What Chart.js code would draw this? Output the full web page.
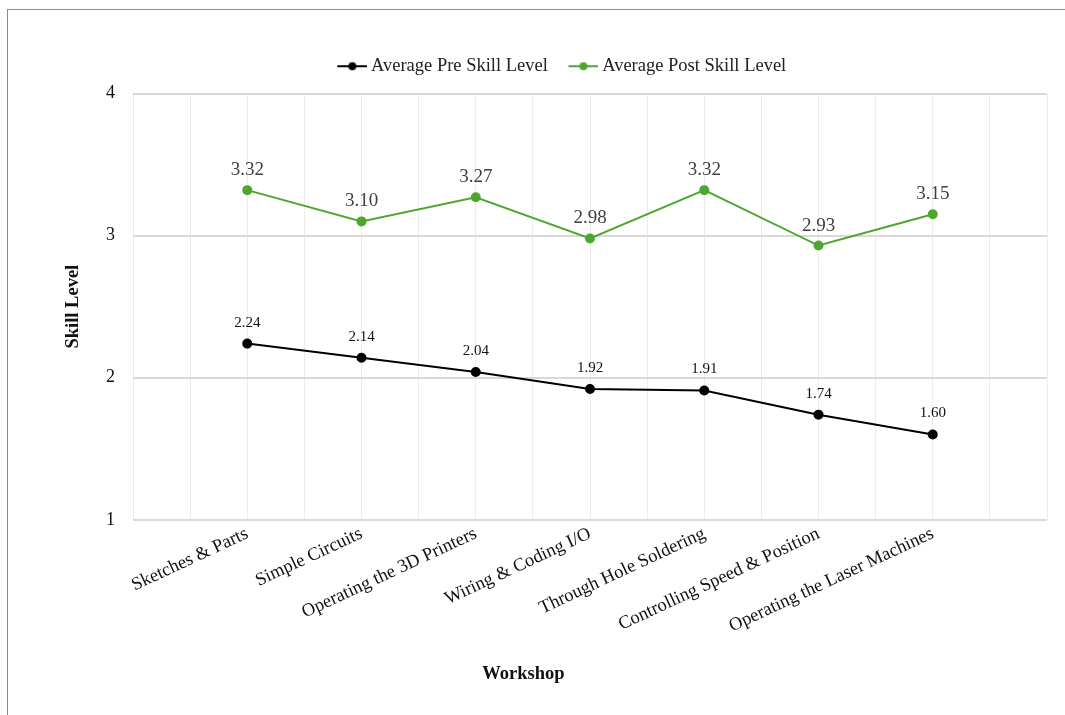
<!DOCTYPE html>
<html>
<head>
<meta charset="utf-8">
<script src="https://cdn.jsdelivr.net/npm/chart.js@4/dist/chart.umd.min.js"></script>
<style>
  html, body { margin: 0; padding: 0; background: #fff; }
  #wrap { position: relative; width: 1065px; height: 715px; overflow: hidden; }
  #frame { position: absolute; left: 7px; top: 9px; width: 1070px; height: 720px; border: 1px solid #8c8c8c; border-bottom: none; box-sizing: border-box; pointer-events: none; }
  canvas { position: absolute; left: 0; top: 0; }
</style>
</head>
<body>
<div id="wrap">
  <canvas id="chart" width="1065" height="715"></canvas>
  <div id="frame"></div>
</div>
<script>
// Data
const workshops = ['Sketches & Parts', 'Simple Circuits', 'Operating the 3D Printers', 'Wiring & Coding I/O',
  'Through Hole Soldering', 'Controlling Speed & Position', 'Operating the Laser Machines'];
const preSkill  = [2.24, 2.14, 2.04, 1.92, 1.91, 1.74, 1.60];
const postSkill = [3.32, 3.10, 3.27, 2.98, 3.32, 2.93, 3.15];
const yTicks = [1, 2, 3, 4];

const serif = '"Liberation Serif", "Times New Roman", serif';
const green = '#4ea72e';

// legend marker: short line with a dot (left part of the image is empty)
function legendMark(color) {
  const c = document.createElement('canvas');
  c.width = 36; c.height = 12;
  const g = c.getContext('2d');
  g.strokeStyle = color; g.lineWidth = 2;
  g.beginPath(); g.moveTo(6, 6); g.lineTo(36, 6); g.stroke();
  g.fillStyle = color;
  g.beginPath(); g.arc(21, 6, 4, 0, Math.PI * 2); g.fill();
  return c;
}

// value labels above the points
const valueLabels = {
  id: 'valueLabels',
  afterDatasetsDraw(chart) {
    const ctx = chart.ctx;
    chart.data.datasets.forEach((ds, i) => {
      const meta = chart.getDatasetMeta(i);
      ctx.save();
      ctx.font = ds.labelSize + 'px ' + serif;
      ctx.fillStyle = ds.labelColor;
      ctx.textAlign = 'center';
      ctx.textBaseline = 'middle';
      meta.data.forEach((pt, j) => {
        ctx.fillText(ds.data[j].y.toFixed(2), pt.x, pt.y - ds.labelOffset);
      });
      ctx.restore();
    });
  }
};

// a bit more room under the legend, and push it right a little
const legendTweak = {
  id: 'legendTweak',
  afterInit(chart) {
    const fit = chart.legend.fit;
    chart.legend.fit = function () { fit.call(this); this.height += 8; };
  },
  afterLayout(chart) {
    chart.legend.left += 38;
    chart.legend.right += 38;
  }
};

new Chart(document.getElementById('chart'), {
  type: 'line',
  data: {
    datasets: [
      {
        label: 'Average Pre Skill Level',
        data: preSkill.map((v, i) => ({ x: i + 1, y: v })),
        borderColor: '#000', backgroundColor: '#000',
        borderWidth: 2, pointRadius: 4, pointStyle: 'circle',
        labelSize: 15, labelColor: '#111', labelOffset: 21,
        legendImg: legendMark('#000')
      },
      {
        label: 'Average Post Skill Level',
        data: postSkill.map((v, i) => ({ x: i + 1, y: v })),
        borderColor: green, backgroundColor: green,
        borderWidth: 2, pointRadius: 4, pointStyle: 'circle',
        labelSize: 19, labelColor: '#404040', labelOffset: 20,
        legendImg: legendMark(green)
      }
    ]
  },
  options: {
    responsive: false,
    animation: false,
    layout: { padding: { left: 0, right: 18, top: 37, bottom: 0 } },
    plugins: {
      tooltip: { enabled: false },
      legend: {
        position: 'top',
        labels: {
          usePointStyle: true,
          pointStyleWidth: 25,
          padding: 20,
          color: '#222',
          font: { family: serif, size: 18.5 },
          generateLabels(chart) {
            return chart.data.datasets.map((ds, i) => ({
              text: ds.label, pointStyle: ds.legendImg, datasetIndex: i,
              fillStyle: ds.borderColor, strokeStyle: ds.borderColor, fontColor: '#222', lineWidth: 0
            }));
          }
        }
      },
      title: {
        display: true, position: 'bottom', text: 'Workshop', color: '#111',
        font: { family: serif, size: 18.5, weight: 'bold' },
        padding: { top: 0, bottom: 30 }
      }
    },
    scales: {
      x: {
        type: 'linear',
        min: 0, max: 8,
        afterFit(s) { s.height = 143; },
        border: { display: false },
        grid: { color: '#ececec', lineWidth: 1, drawTicks: false },
        ticks: {
          stepSize: 0.5, autoSkip: false,
          minRotation: 25, maxRotation: 25, padding: 3,
          color: '#111', font: { family: serif, size: 18.5 },
          callback: v => (Number.isInteger(v) && v >= 1 && v <= workshops.length) ? workshops[v - 1] : ''
        }
      },
      y: {
        min: 1, max: 4,
        afterFit(s) { s.width = 133; },
        afterBuildTicks(s) { s.ticks = yTicks.map(v => ({ value: v })); },
        border: { display: false },
        grid: { color: '#d9d9d9', lineWidth: 2, drawTicks: false },
        ticks: { padding: 18, color: '#111', font: { family: serif, size: 18 } },
        title: {
          display: true, text: 'Skill Level', color: '#111',
          font: { family: serif, size: 18.5, weight: 'bold' },
          padding: { top: 62, bottom: 0 }
        }
      }
    }
  },
  plugins: [valueLabels, legendTweak]
});
</script>
</body>
</html>
